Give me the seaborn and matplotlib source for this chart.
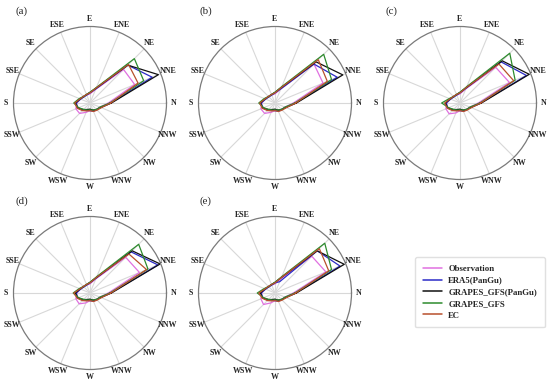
import numpy as np
import pandas as pd
import matplotlib
matplotlib.use("Agg")
import matplotlib.pyplot as plt
import seaborn as sns

directions = ["N", "NNE", "NE", "ENE", "E", "ESE", "SE", "SSE",
              "S", "SSW", "SW", "WSW", "W", "WNW", "NW", "NNW"]
models = ["Observation", "ERA5(PanGu)", "GRAPES_GFS(PanGu)", "GRAPES_GFS", "EC"]
panel_labels = ["(a)", "(b)", "(c)", "(d)", "(e)"]

# frequency (%) per direction, order as `directions`
a_obs  = [6.0, 15.8, 15.5, 4.8, 3.0, 2.8, 3.0, 3.5, 4.3, 5.0, 4.8, 3.3, 2.5, 3.0, 3.0, 3.5]
a_era5 = [6.8, 22.0, 17.5, 5.0, 3.3, 2.8, 2.8, 3.3, 4.5, 4.3, 3.3, 2.5, 2.5, 2.8, 3.0, 3.8]
a_gpan = [7.0, 24.2, 17.5, 5.3, 3.5, 3.0, 3.0, 3.5, 4.8, 4.3, 3.0, 2.3, 2.0, 2.5, 3.0, 3.8]
a_ggfs = [6.5, 19.0, 20.5, 5.5, 3.5, 3.0, 3.0, 3.8, 5.3, 4.0, 3.0, 2.5, 2.3, 2.5, 3.0, 3.5]
a_ec   = [6.8, 17.0, 17.8, 5.3, 3.3, 3.0, 3.0, 3.5, 5.0, 4.5, 3.5, 2.8, 2.5, 3.0, 3.3, 4.0]

b_obs  = [6.0, 17.0, 18.0, 5.0, 3.0, 2.8, 3.0, 3.5, 4.3, 5.0, 4.8, 3.3, 2.5, 3.0, 3.0, 3.5]
b_era5 = [6.8, 22.0, 18.0, 5.0, 3.3, 2.8, 2.8, 3.3, 4.5, 4.3, 3.3, 2.5, 2.5, 2.8, 3.0, 3.8]
b_gpan = [7.0, 24.0, 19.0, 5.5, 3.5, 3.0, 3.0, 3.5, 4.8, 4.3, 3.0, 2.3, 2.0, 2.5, 3.0, 3.8]
b_ggfs = [6.5, 20.0, 22.5, 5.8, 3.5, 3.0, 3.0, 3.8, 5.3, 4.0, 3.0, 2.5, 2.3, 2.5, 3.0, 3.5]
b_ec   = [6.8, 18.5, 20.0, 5.5, 3.3, 3.0, 3.0, 3.5, 5.0, 4.5, 3.5, 2.8, 2.5, 3.0, 3.3, 4.0]

c_obs  = [6.0, 17.5, 16.5, 5.0, 3.0, 2.8, 3.0, 3.5, 4.3, 5.0, 5.0, 3.5, 2.5, 3.0, 3.0, 3.5]
c_era5 = [6.8, 23.5, 19.0, 5.3, 3.3, 2.8, 2.8, 3.3, 4.5, 4.3, 3.3, 2.5, 2.5, 2.8, 3.0, 3.8]
c_gpan = [7.0, 24.5, 19.5, 5.5, 3.5, 3.0, 3.0, 3.5, 4.8, 4.3, 3.0, 2.3, 2.0, 2.5, 3.0, 3.8]
c_ggfs = [6.5, 19.5, 23.0, 5.8, 3.5, 3.0, 3.0, 3.8, 6.0, 4.0, 3.0, 2.5, 2.3, 2.5, 3.0, 3.5]
c_ec   = [6.8, 19.0, 18.0, 5.5, 3.3, 3.0, 3.0, 3.5, 5.0, 4.5, 3.5, 2.8, 2.5, 3.0, 3.3, 4.0]

d_obs  = [6.0, 17.5, 16.5, 5.0, 3.0, 2.8, 3.0, 3.5, 4.3, 5.0, 5.0, 3.5, 2.5, 3.0, 3.0, 3.5]
d_era5 = [6.8, 24.0, 19.0, 5.3, 3.3, 2.8, 2.8, 3.3, 4.5, 4.3, 3.3, 2.5, 2.5, 2.8, 3.0, 3.8]
d_gpan = [7.0, 24.8, 19.5, 5.5, 3.5, 3.0, 3.0, 3.5, 4.8, 4.3, 3.0, 2.3, 2.0, 2.5, 3.0, 3.8]
d_ggfs = [6.5, 20.5, 22.5, 5.8, 3.5, 3.0, 3.0, 3.8, 5.5, 4.0, 3.0, 2.5, 2.3, 2.5, 3.0, 3.5]
d_ec   = [6.8, 20.0, 18.0, 5.5, 3.3, 3.0, 3.0, 3.5, 5.3, 4.5, 3.5, 2.8, 2.5, 3.0, 3.3, 4.0]

e_obs  = [6.0, 18.0, 17.0, 5.0, 3.0, 2.8, 3.0, 3.5, 4.3, 5.0, 5.3, 3.5, 2.5, 3.0, 3.0, 3.5]
e_era5 = [6.8, 23.0, 19.5, 4.0, 3.3, 2.8, 2.8, 3.3, 4.5, 4.3, 3.3, 2.5, 2.5, 2.8, 3.0, 3.8]
e_gpan = [7.0, 24.5, 19.5, 5.5, 3.5, 3.0, 3.0, 3.5, 4.8, 4.3, 3.0, 2.3, 2.0, 2.5, 3.0, 3.8]
e_ggfs = [6.5, 20.0, 23.0, 5.8, 3.5, 3.0, 3.0, 3.8, 5.8, 4.0, 3.0, 2.5, 2.3, 2.5, 3.0, 3.5]
e_ec   = [6.8, 19.0, 20.5, 5.5, 3.3, 3.0, 3.0, 3.5, 5.3, 4.5, 3.5, 2.8, 2.5, 3.0, 3.3, 4.0]

panels = [
    [a_obs, a_era5, a_gpan, a_ggfs, a_ec],
    [b_obs, b_era5, b_gpan, b_ggfs, b_ec],
    [c_obs, c_era5, c_gpan, c_ggfs, c_ec],
    [d_obs, d_era5, d_gpan, d_ggfs, d_ec],
    [e_obs, e_era5, e_gpan, e_ggfs, e_ec],
]

palette = {"Observation": "#e070e0", "ERA5(PanGu)": "#2b2bc8",
           "GRAPES_GFS(PanGu)": "#111111", "GRAPES_GFS": "#2e8b2e", "EC": "#b8502c"}
RMAX = 25.0

sns.set_theme(style="white")
plt.rcParams["font.family"] = ["Liberation Serif", "DejaVu Serif"]

W, H = 550, 386
fig = plt.figure(figsize=(W / 100, H / 100), dpi=100)

centers = [(90, 103), (275, 103), (460, 103), (90, 293), (275, 293)]
R = 76.5
theta = np.deg2rad(np.arange(16) * 22.5)

handles = labels = None
for k, (vals, (cx, cy)) in enumerate(zip(panels, centers)):
    ax = fig.add_axes([(cx - R) / W, 1 - (cy + R) / H, 2 * R / W, 2 * R / H],
                      projection="polar")
    rows = []
    for m, v in zip(models, vals):
        for t, r in zip(list(theta) + [2 * np.pi], list(v) + [v[0]]):
            rows.append({"theta": t, "freq": r, "model": m})
    df = pd.DataFrame(rows)
    sns.lineplot(data=df, x="theta", y="freq", hue="model", hue_order=models,
                 palette=palette, sort=False, estimator=None, linewidth=0.9,
                 ax=ax, legend=(k == 0))
    if k == 0:
        handles, labels = ax.get_legend_handles_labels()
        ax.get_legend().remove()
    ax.set_ylim(0, RMAX)
    ax.set_yticks([])
    ax.set_xticks(theta)
    ax.set_xticklabels([])
    ax.xaxis.grid(True, color="#d8d8d8", linewidth=0.8)
    ax.set_xlabel("")
    ax.set_ylabel("")
    ax.spines["polar"].set_color("#7a7a7a")
    ax.spines["polar"].set_linewidth(0.9)
    # direction labels centred at a fixed distance just outside the circle
    for t, name in zip(theta, directions):
        ax.text(t, RMAX * 1.1, name, fontsize=5.8, fontweight="bold",
                ha="center", va="center", clip_on=False)
    fig.text((cx - 75) / W, 1 - (cy - 92) / H, panel_labels[k], fontsize=7.8,
             ha="left", va="center")

leg = fig.legend(handles, labels, loc="upper left", bbox_to_anchor=(415 / W, 1 - 257 / H),
                 prop={"family": ["Liberation Serif"], "weight": "bold", "size": 6.3},
                 handlelength=2.2, handletextpad=0.7, labelspacing=0.4,
                 frameon=True, borderpad=0.9, borderaxespad=0,
                 fancybox=True, edgecolor="#e0e0e0", framealpha=1)
for line in leg.get_lines():
    line.set_linewidth(1.1)

fig.savefig("out.png", dpi=100)
